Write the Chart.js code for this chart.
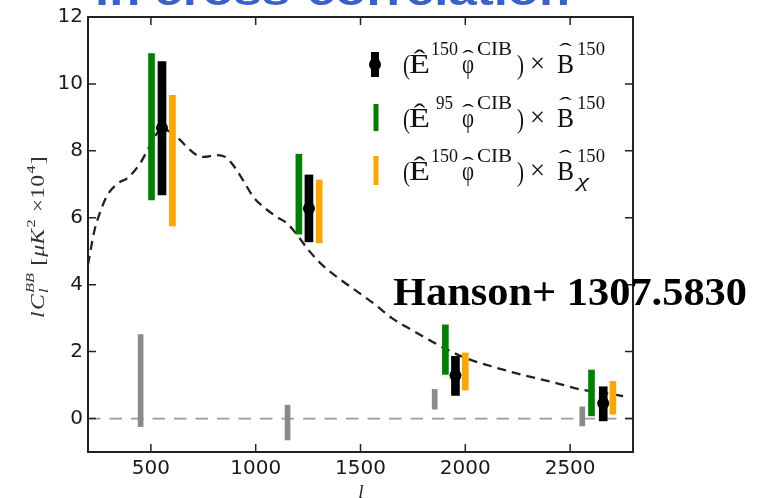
<!DOCTYPE html>
<html><head><meta charset="utf-8">
<script src="https://cdn.jsdelivr.net/npm/chart.js@4/dist/chart.umd.min.js"></script>
<style>html,body{margin:0;padding:0;background:#fff;overflow:hidden}canvas{display:block}</style>
</head><body>
<canvas id="c" width="764" height="498"></canvas>
<script>
// ---------- data ----------
const xTicks = [500, 1000, 1500, 2000, 2500];
const yTicks = [0, 2, 4, 6, 8, 10, 12];

const theoryL = [200,230,257,290,353,385,448,496,553,625,673,720,750,816,854,893,940,988,1036,1100,1150,1190,1250,1316,1394,1483,1571,1650,1752,1833,1913,2009,2120,2263,2421,2550,2707,2770];
const theoryV = [4.6,5.6,6.15,6.65,7.07,7.17,7.62,8.16,8.66,8.41,8.11,7.87,7.82,7.87,7.82,7.57,7.12,6.63,6.33,6.03,5.83,5.55,5.05,4.6,4.2,3.8,3.4,3.0,2.62,2.33,2.06,1.79,1.57,1.32,1.08,0.87,0.72,0.65];

const blackL   = [553, 1254, 1953, 2658];
const blackMid = [8.68, 6.28, 1.29, 0.46];
const blackLo  = [6.68, 5.28, 0.69, -0.07];
const blackHi  = [10.67, 7.28, 1.86, 0.95];

const greenL  = [503, 1206, 1905, 2602];
const greenLo = [6.53, 5.51, 1.32, 0.08];
const greenHi = [10.91, 7.90, 2.80, 1.45];

const orangeL  = [603, 1303, 2000, 2704];
const orangeLo = [5.76, 5.25, 0.85, 0.13];
const orangeHi = [9.66, 7.13, 1.96, 1.11];

const grayL  = [451, 1152, 1854, 2558];
const grayLo = [-0.24, -0.64, 0.28, -0.22];
const grayHi = [2.51, 0.40, 0.87, 0.35];

const zeroL = [200, 2800];
const zeroV = [0, 0];

const annotationText = "Hanson+ 1307.5830";
const headerText = "in cross-correlation";
const xTitle = "l";

// ---------- helpers ----------
const pts = (xs, ys) => xs.map((x, i) => ({x, y: ys[i]}));
const rng = (xs, lo, hi) => xs.map((x, i) => ({x, y: [lo[i], hi[i]]}));

function stretchText(ctx, text, x0, x1, base, font) {
  ctx.font = font;
  const w = ctx.measureText(text).width;
  ctx.save();
  ctx.translate(x0, base);
  ctx.scale((x1 - x0) / w, 1);
  ctx.textBaseline = 'alphabetic';
  ctx.textAlign = 'left';
  ctx.fillText(text, 0, 0);
  ctx.restore();
}

const SERIF = "'Liberation Serif', 'Times New Roman', serif";

function legendEntry(ctx, b, variant) {
  const main = "27px " + SERIF, sup = "18px " + SERIF;
  const sb = b - 18;
  ctx.fillStyle = '#111';
  stretchText(ctx, "(", 403, 410, b + 1, main);
  stretchText(ctx, "\u00CA", 409, 430, b, main);
  if (variant === 1) stretchText(ctx, "95", 436, 453, sb, sup);
  else stretchText(ctx, "150", 431, 458, sb, sup);
  stretchText(ctx, "\u03C6", 462, 474, b, main);
  stretchText(ctx, "\u02C6", 462, 474, b - 8, "22px " + SERIF);
  stretchText(ctx, "CIB", 477, 512, sb, sup);
  stretchText(ctx, ")", 517, 524, b + 1, main);
  stretchText(ctx, "\u00D7", 530, 545, b - 1, main);
  stretchText(ctx, "B", 557, 574, b, main);
  stretchText(ctx, "\u02C6", 559, 572, b - 15, "22px " + SERIF);
  stretchText(ctx, "150", 577, 605, sb, sup);
  if (variant === 2) stretchText(ctx, "\u03C7", 577, 589, b + 7, "italic 18px " + SERIF);
}

const decor = {
  id: 'decor',
  afterDraw(chart) {
    const ctx = chart.ctx, ca = chart.chartArea;
    const xs = chart.scales.x, ys = chart.scales.y;
    ctx.save();
    // header (cut off at top of the picture)
    ctx.fillStyle = '#3a5fcf';
    stretchText(ctx, headerText, 95, 570, 5, "bold 40px 'Liberation Sans', Arial, sans-serif");

    // frame
    ctx.strokeStyle = '#222';
    ctx.lineWidth = 2;
    ctx.strokeRect(ca.left, ca.top, ca.right - ca.left, ca.bottom - ca.top);
    ctx.lineWidth = 1.5;
    ctx.beginPath();
    xTicks.forEach(v => {
      const p = xs.getPixelForValue(v);
      ctx.moveTo(p, ca.bottom); ctx.lineTo(p, ca.bottom - 8);
      ctx.moveTo(p, ca.top); ctx.lineTo(p, ca.top + 8);
    });
    yTicks.forEach(v => {
      const p = ys.getPixelForValue(v);
      ctx.moveTo(ca.left, p); ctx.lineTo(ca.left + 8, p);
      ctx.moveTo(ca.right, p); ctx.lineTo(ca.right - 8, p);
    });
    ctx.stroke();

    // legend markers
    ctx.fillStyle = '#000';
    ctx.fillRect(371, 52, 8, 25);
    ctx.beginPath(); ctx.arc(375, 64.5, 6, 0, Math.PI * 2); ctx.fill();
    ctx.fillStyle = '#008000';
    ctx.fillRect(373.5, 104, 5, 27);
    ctx.fillStyle = '#FFA500';
    ctx.fillRect(373.5, 156, 5, 29);
    // legend text
    legendEntry(ctx, 73, 0);
    legendEntry(ctx, 127, 1);
    legendEntry(ctx, 180, 2);

    // x title
    ctx.fillStyle = '#222';
    ctx.font = "italic 19px " + SERIF;
    ctx.textAlign = 'center';
    ctx.textBaseline = 'alphabetic';
    ctx.fillText(xTitle, 361, 498);

    // y title (rotated), built from pieces
    ctx.save();
    ctx.translate(44, 318);
    ctx.rotate(-Math.PI / 2);
    ctx.fillStyle = '#333';
    ctx.textAlign = 'left';
    const pieces = [
      {t: "l", f: "italic 19px " + SERIF, dy: 0},
      {t: "C", f: "italic 19px " + SERIF, dy: 0},
      {t: "BB", f: "italic 13px " + SERIF, dy: -10, stackSub: "l"},
      {t: " [", f: "19px " + SERIF, dy: 0},
      {t: "\u03BCK", f: "italic 19px " + SERIF, dy: 0},
      {t: "2", f: "13px " + SERIF, dy: -9},
      {t: " \u00D710", f: "19px " + SERIF, dy: 0},
      {t: "4", f: "13px " + SERIF, dy: -9},
      {t: "]", f: "19px " + SERIF, dy: 0}
    ];
    let total = 0;
    pieces.forEach(p => { ctx.font = p.f; p.w = ctx.measureText(p.t).width + 1; total += p.w; });
    const k = 163 / total;
    ctx.scale(k, 1);
    let cx = 0;
    pieces.forEach(p => {
      ctx.font = p.f;
      ctx.fillText(p.t, cx, p.dy);
      if (p.stackSub) ctx.fillText(p.stackSub, cx, 4);
      cx += p.w;
    });
    ctx.restore();

    // annotation
    ctx.fillStyle = '#000';
    stretchText(ctx, annotationText, 393, 747, 305, "bold 41px " + SERIF);
    ctx.restore();
  }
};

new Chart(document.getElementById('c'), {
  type: 'bar',
  data: {
    datasets: [
      {type: 'line', data: pts(blackL, blackMid), showLine: false, pointRadius: 6, pointHoverRadius: 6,
       pointBackgroundColor: '#000', pointBorderWidth: 0, order: 0},
      {type: 'bar', data: rng(orangeL, orangeLo, orangeHi), backgroundColor: '#FFA500', barThickness: 6, grouped: false, borderWidth: 0, order: 1},
      {type: 'bar', data: rng(blackL, blackLo, blackHi), backgroundColor: '#000', barThickness: 8, grouped: false, borderWidth: 0, order: 2},
      {type: 'bar', data: rng(greenL, greenLo, greenHi), backgroundColor: '#008000', barThickness: 6, grouped: false, borderWidth: 0, order: 3},
      {type: 'line', data: pts(theoryL, theoryV), borderColor: '#222', borderWidth: 2.3, borderDash: [9, 6],
       pointRadius: 0, fill: false, cubicInterpolationMode: 'monotone', order: 4},
      {type: 'bar', data: rng(grayL, grayLo, grayHi), backgroundColor: '#8a8a8a', barThickness: 5, grouped: false, borderWidth: 0, order: 5},
      {type: 'line', data: pts(zeroL, zeroV), borderColor: '#9a9a9a', borderWidth: 1.7, borderDash: [12.5, 9],
       pointRadius: 0, fill: false, order: 6}
    ]
  },
  options: {
    responsive: false,
    animation: false,
    devicePixelRatio: 1,
    events: [],
    layout: {padding: {left: 0, right: 131, top: 16, bottom: 0}},
    plugins: {legend: {display: false}, tooltip: {enabled: false}},
    scales: {
      x: {
        type: 'linear', min: 200, max: 2800, offset: false,
        grid: {display: false, drawTicks: false}, border: {display: false},
        afterBuildTicks: s => { s.ticks = xTicks.map(v => ({value: v})); },
        afterFit: s => { s.height = 46; },
        ticks: {padding: 5, color: '#1a1a1a', font: {family: "'DejaVu Sans', sans-serif", size: 20},
                maxRotation: 0, autoSkip: false, callback: v => String(v)}
      },
      y: {
        type: 'linear', min: -1, max: 12,
        grid: {display: false, drawTicks: false}, border: {display: false},
        afterBuildTicks: s => { s.ticks = yTicks.map(v => ({value: v})); },
        afterFit: s => { s.width = 88; },
        ticks: {padding: 5, color: '#1a1a1a', font: {family: "'DejaVu Sans', sans-serif", size: 20},
                autoSkip: false, callback: v => String(v)}
      }
    }
  },
  plugins: [decor]
});
</script>
</body></html>
